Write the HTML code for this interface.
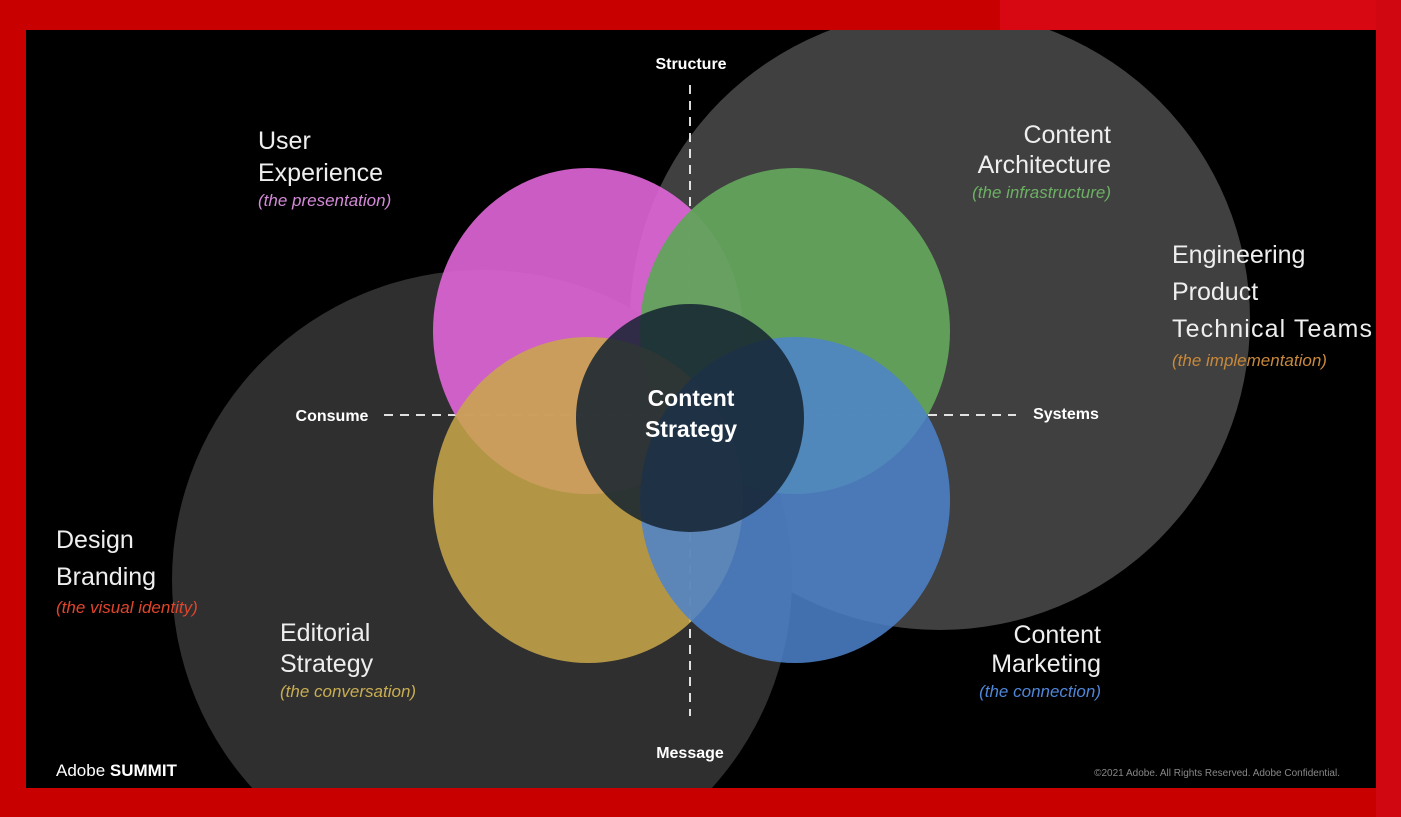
<!DOCTYPE html>
<html><head><meta charset="utf-8"><style>
html,body{margin:0;padding:0;background:#c80000;width:1401px;height:817px;overflow:hidden;}
svg{display:block}
text{font-family:"Liberation Sans",sans-serif;}
</style></head><body>
<svg width="1401" height="817" viewBox="0 0 1401 817" xmlns="http://www.w3.org/2000/svg">
<rect width="1401" height="817" fill="#c80000"/>
<rect x="1000" y="0" width="401" height="30" fill="#d80812"/>
<rect x="1376" y="0" width="25" height="817" fill="#d00610"/>
<defs><clipPath id="s"><rect x="26" y="30" width="1350" height="758"/></clipPath></defs>
<rect x="26" y="30" width="1350" height="758" fill="#000"/>
<g clip-path="url(#s)">
<circle cx="940" cy="320" r="310" fill="#404040"/>
<circle cx="482" cy="580" r="310" fill="#2f2f2f"/>
<line x1="690" y1="85" x2="690" y2="716" stroke="#fff" stroke-width="2" stroke-dasharray="9,7" opacity="0.85"/>
<line x1="384" y1="415" x2="1016" y2="415" stroke="#fff" stroke-width="2" stroke-dasharray="9,7" opacity="0.85"/>
<ellipse cx="588" cy="331" rx="155" ry="163" fill="#e066d8" opacity="0.9"/>
<ellipse cx="795" cy="331" rx="155" ry="163" fill="#62a35c" opacity="0.95"/>
<ellipse cx="588" cy="500" rx="155" ry="163" fill="#c9a84a" opacity="0.85"/>
<ellipse cx="795" cy="500" rx="155" ry="163" fill="#4d84cc" opacity="0.85"/>
<circle cx="690" cy="418" r="114" fill="#142230" opacity="0.85"/>
</g>
<g fill="#fff" font-weight="bold" font-size="16" text-anchor="middle">
<text x="691" y="69">Structure</text>
<text x="332" y="421">Consume</text>
<text x="1066" y="419">Systems</text>
<text x="690" y="758">Message</text>
</g>
<g fill="#fff" font-weight="bold" font-size="23" text-anchor="middle">
<text x="691" y="406">Content</text>
<text x="691" y="437">Strategy</text>
</g>
<g fill="#eee" font-size="25">
<text x="258" y="149">User</text>
<text x="258" y="181">Experience</text>
<text x="56" y="548">Design</text>
<text x="56" y="585">Branding</text>
<text x="280" y="641">Editorial</text>
<text x="280" y="672">Strategy</text>
<text x="1172" y="263">Engineering</text>
<text x="1172" y="300">Product</text>
<text x="1172" y="337" textLength="200">Technical Teams</text>
</g>
<g fill="#eee" font-size="25" text-anchor="end">
<text x="1111" y="143">Content</text>
<text x="1111" y="173">Architecture</text>
<text x="1101" y="643">Content</text>
<text x="1101" y="672">Marketing</text>
</g>
<g font-size="17" font-style="italic">
<text x="258" y="206" fill="#d48ad8">(the presentation)</text>
<text x="56" y="613" fill="#e0452c">(the visual identity)</text>
<text x="280" y="697" fill="#c9ad52">(the conversation)</text>
<text x="1172" y="366" fill="#c8893a">(the implementation)</text>
<text x="1111" y="198" fill="#6cb064" text-anchor="end">(the infrastructure)</text>
<text x="1101" y="697" fill="#4f86d8" text-anchor="end">(the connection)</text>
</g>
<text x="56" y="776" fill="#fff" font-size="17">Adobe <tspan font-weight="bold">SUMMIT</tspan></text>
<text x="1340" y="776" fill="#888" font-size="10" text-anchor="end">©2021 Adobe. All Rights Reserved. Adobe Confidential.</text>
</svg>
</body></html>
